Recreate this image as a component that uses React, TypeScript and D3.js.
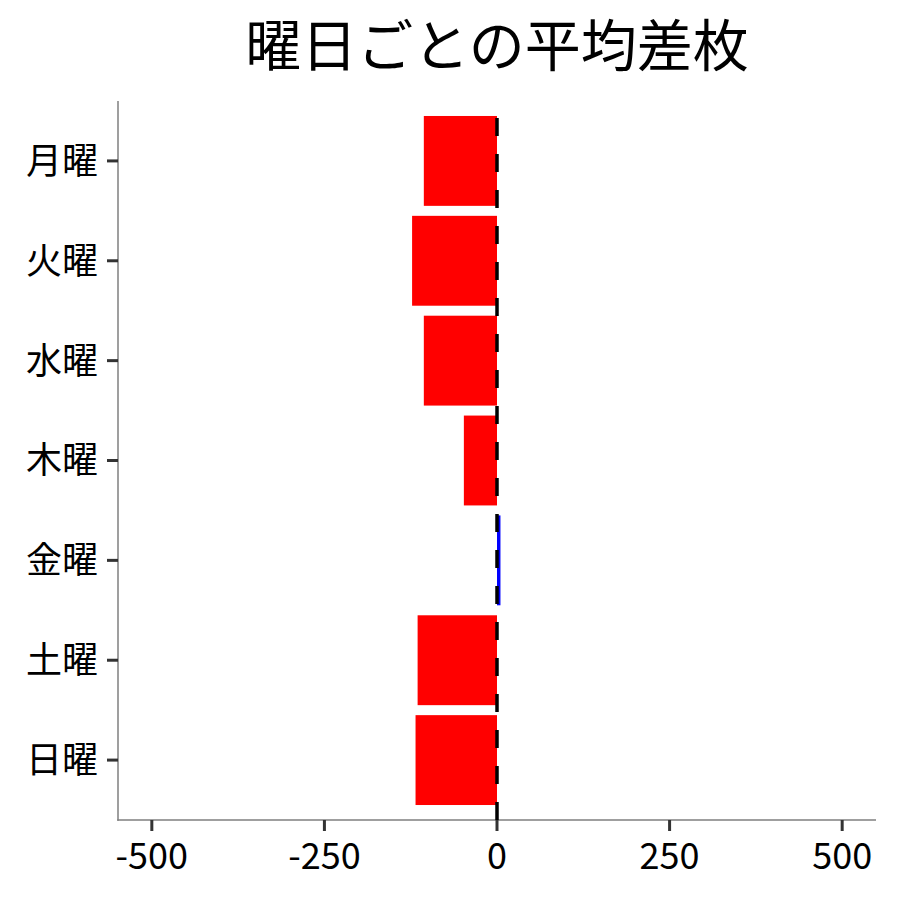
import React from 'react';
import * as d3 from 'd3';

// 曜日ごとの平均差枚
const days = ['月曜', '火曜', '水曜', '木曜', '金曜', '土曜', '日曜'];
const avgDiff = [-106, -123, -106, -48, 5, -115, -118];
const xTicks = [-500, -250, 0, 250, 500];
const title = '曜日ごとの平均差枚';

const FONT = '"Noto Sans CJK JP", "Noto Sans", sans-serif';

export default function App() {
    const width = 900;
    const height = 900;
    const plot = { left: 118, right: 876, top: 101, bottom: 820 };

    const xScale = d3.scaleLinear()
        .domain([-549, 549])
        .range([plot.left, plot.right]);

    const yScale = d3.scaleBand<string>()
        .domain(days)
        .range([plot.top, plot.bottom])
        .paddingInner(0.1)
        .paddingOuter(0.15);

    const x0 = xScale(0);

    return (
        <svg width={width} height={height} style={{ position: 'absolute', left: 0, top: 0, background: '#fff' }}
            fontFamily={FONT}>
            <rect x={0} y={0} width={width} height={height} fill="#fff" />

            <text x={(plot.left + plot.right) / 2} y={66} textAnchor="middle" fontSize={56} fill="#000">
                {title}
            </text>

            {days.map((d, i) => {
                const v = avgDiff[i];
                const y = yScale(d) as number;
                return (
                    <rect key={d}
                        x={Math.min(xScale(v), x0)}
                        y={y}
                        width={Math.abs(xScale(v) - x0)}
                        height={yScale.bandwidth()}
                        fill={v >= 0 ? '#0000FF' : '#FF0000'} />
                );
            })}

            {/* axis lines */}
            <line x1={plot.left} x2={plot.left} y1={plot.top} y2={plot.bottom + 0.75} stroke="#7f7f7f" strokeWidth={1.5} />
            <line x1={plot.left - 0.75} x2={plot.right} y1={plot.bottom} y2={plot.bottom} stroke="#7f7f7f" strokeWidth={1.5} />

            {/* y axis ticks + labels */}
            {days.map(d => {
                const cy = (yScale(d) as number) + yScale.bandwidth() / 2;
                return (
                    <g key={d}>
                        <line x1={plot.left - 11} x2={plot.left} y1={cy} y2={cy} stroke="#333" strokeWidth={3} />
                        <text x={plot.left - 20} y={cy} dy="0.36em" textAnchor="end" fontSize={36} fill="#000">{d}</text>
                    </g>
                );
            })}

            {/* x axis ticks + labels */}
            {xTicks.map(t => (
                <g key={t}>
                    <line x1={xScale(t)} x2={xScale(t)} y1={plot.bottom} y2={plot.bottom + 11} stroke="#333" strokeWidth={3} />
                    <text x={xScale(t)} y={869} textAnchor="middle" fontSize={36} fill="#000">{t}</text>
                </g>
            ))}

            {/* zero reference line, dashes start at the bottom */}
            <line x1={x0} x2={x0} y1={plot.bottom} y2={plot.top} stroke="#000" strokeWidth={3.5}
                strokeDasharray="18 18" />
        </svg>
    );
}
